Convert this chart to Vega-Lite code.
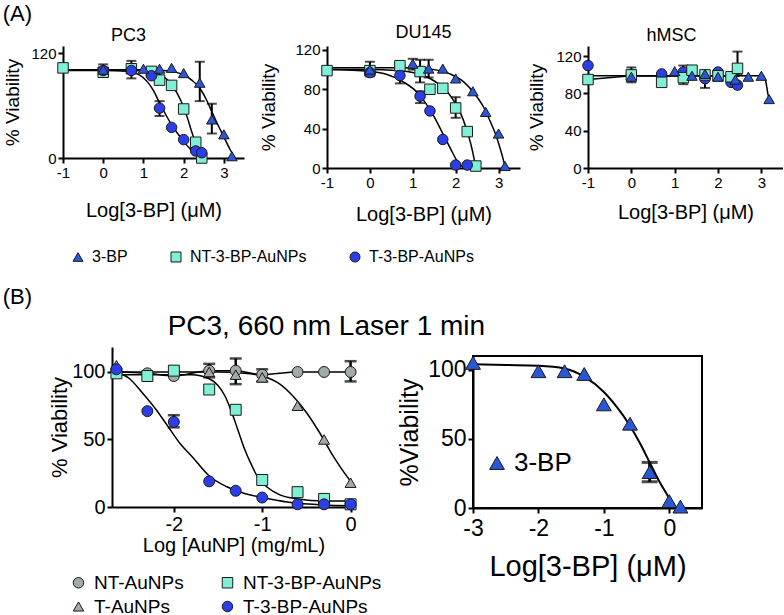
{
  "$schema": "https://vega.github.io/schema/vega-lite/v6.json",
  "padding": {"left": 2, "top": 2, "right": 0, "bottom": 0},
  "config": {
    "font": "Liberation Sans",
    "view": {"stroke": null},
    "axis": {"domainColor": "black", "domainWidth": 2, "tickColor": "black", "tickWidth": 2, "tickSize": 5, "labelColor": "black", "titleColor": "black", "grid": false, "titleFontWeight": "normal", "labelPadding": 2, "labelFlush": false, "labelOverlap": false, "labelExpr": "toString(datum.value)"},
    "title": {"fontWeight": "normal", "color": "black"},
    "legend": {"labelColor": "black", "padding": 0}
  },
  "datasets": {
    "pc3_pts": [
      {"s": "NT-3-BP-AuNPs", "x": -1, "y": 103},
      {"s": "NT-3-BP-AuNPs", "x": 0, "y": 98},
      {"s": "NT-3-BP-AuNPs", "x": 0.7, "y": 102, "lo": 91, "hi": 111},
      {"s": "NT-3-BP-AuNPs", "x": 1.2, "y": 99},
      {"s": "NT-3-BP-AuNPs", "x": 1.4, "y": 89},
      {"s": "NT-3-BP-AuNPs", "x": 1.7, "y": 83},
      {"s": "NT-3-BP-AuNPs", "x": 2.0, "y": 56},
      {"s": "NT-3-BP-AuNPs", "x": 2.3, "y": 18},
      {"s": "NT-3-BP-AuNPs", "x": 2.45, "y": 0},
      {"s": "T-3-BP-AuNPs", "x": 0, "y": 100, "lo": 93, "hi": 107},
      {"s": "T-3-BP-AuNPs", "x": 0.7, "y": 100},
      {"s": "T-3-BP-AuNPs", "x": 1.2, "y": 94},
      {"s": "T-3-BP-AuNPs", "x": 1.4, "y": 57, "lo": 48, "hi": 65},
      {"s": "T-3-BP-AuNPs", "x": 1.7, "y": 35},
      {"s": "T-3-BP-AuNPs", "x": 2.0, "y": 21},
      {"s": "T-3-BP-AuNPs", "x": 2.3, "y": 8},
      {"s": "T-3-BP-AuNPs", "x": 2.45, "y": 6},
      {"s": "3-BP", "x": 0, "y": 101},
      {"s": "3-BP", "x": 1.0, "y": 102},
      {"s": "3-BP", "x": 1.4, "y": 102},
      {"s": "3-BP", "x": 1.7, "y": 103},
      {"s": "3-BP", "x": 2.0, "y": 97},
      {"s": "3-BP", "x": 2.4, "y": 86, "lo": 65, "hi": 110},
      {"s": "3-BP", "x": 2.7, "y": 44, "lo": 28, "hi": 62},
      {"s": "3-BP", "x": 3.0, "y": 27},
      {"s": "3-BP", "x": 3.2, "y": 2}
    ],
    "pc3_fit": [
      {"s": "T-3-BP-AuNPs", "x": -1, "y": 100}, {"s": "T-3-BP-AuNPs", "x": 0, "y": 100}, {"s": "T-3-BP-AuNPs", "x": 0.6, "y": 99}, {"s": "T-3-BP-AuNPs", "x": 0.9, "y": 95}, {"s": "T-3-BP-AuNPs", "x": 1.1, "y": 87}, {"s": "T-3-BP-AuNPs", "x": 1.25, "y": 77}, {"s": "T-3-BP-AuNPs", "x": 1.4, "y": 63}, {"s": "T-3-BP-AuNPs", "x": 1.55, "y": 50}, {"s": "T-3-BP-AuNPs", "x": 1.7, "y": 38}, {"s": "T-3-BP-AuNPs", "x": 1.85, "y": 28}, {"s": "T-3-BP-AuNPs", "x": 2.0, "y": 19}, {"s": "T-3-BP-AuNPs", "x": 2.15, "y": 11}, {"s": "T-3-BP-AuNPs", "x": 2.3, "y": 5}, {"s": "T-3-BP-AuNPs", "x": 2.45, "y": 1},
      {"s": "NT-3-BP-AuNPs", "x": -1, "y": 101}, {"s": "NT-3-BP-AuNPs", "x": 0, "y": 101}, {"s": "NT-3-BP-AuNPs", "x": 0.8, "y": 100}, {"s": "NT-3-BP-AuNPs", "x": 1.2, "y": 98}, {"s": "NT-3-BP-AuNPs", "x": 1.5, "y": 93}, {"s": "NT-3-BP-AuNPs", "x": 1.7, "y": 84}, {"s": "NT-3-BP-AuNPs", "x": 1.85, "y": 73}, {"s": "NT-3-BP-AuNPs", "x": 2.0, "y": 58}, {"s": "NT-3-BP-AuNPs", "x": 2.1, "y": 45}, {"s": "NT-3-BP-AuNPs", "x": 2.2, "y": 30}, {"s": "NT-3-BP-AuNPs", "x": 2.3, "y": 17}, {"s": "NT-3-BP-AuNPs", "x": 2.4, "y": 6}, {"s": "NT-3-BP-AuNPs", "x": 2.47, "y": 0},
      {"s": "3-BP", "x": -1, "y": 101}, {"s": "3-BP", "x": 0, "y": 101}, {"s": "3-BP", "x": 1.0, "y": 101}, {"s": "3-BP", "x": 1.5, "y": 100}, {"s": "3-BP", "x": 1.8, "y": 98}, {"s": "3-BP", "x": 2.0, "y": 95}, {"s": "3-BP", "x": 2.2, "y": 89}, {"s": "3-BP", "x": 2.4, "y": 80}, {"s": "3-BP", "x": 2.55, "y": 68}, {"s": "3-BP", "x": 2.7, "y": 53}, {"s": "3-BP", "x": 2.85, "y": 38}, {"s": "3-BP", "x": 3.0, "y": 24}, {"s": "3-BP", "x": 3.15, "y": 10}, {"s": "3-BP", "x": 3.28, "y": 0}
    ],
    "du_pts": [
      {"s": "NT-3-BP-AuNPs", "x": -1, "y": 99},
      {"s": "NT-3-BP-AuNPs", "x": 0, "y": 99},
      {"s": "NT-3-BP-AuNPs", "x": 0.7, "y": 104},
      {"s": "NT-3-BP-AuNPs", "x": 1.17, "y": 98, "lo": 87, "hi": 110},
      {"s": "NT-3-BP-AuNPs", "x": 1.4, "y": 80},
      {"s": "NT-3-BP-AuNPs", "x": 1.7, "y": 81},
      {"s": "NT-3-BP-AuNPs", "x": 2.0, "y": 61, "lo": 51, "hi": 72},
      {"s": "NT-3-BP-AuNPs", "x": 2.27, "y": 37},
      {"s": "NT-3-BP-AuNPs", "x": 2.47, "y": 2},
      {"s": "T-3-BP-AuNPs", "x": 0, "y": 97, "lo": 93, "hi": 108},
      {"s": "T-3-BP-AuNPs", "x": 0.7, "y": 94, "lo": 86, "hi": 100},
      {"s": "T-3-BP-AuNPs", "x": 1.17, "y": 73, "lo": 66, "hi": 78},
      {"s": "T-3-BP-AuNPs", "x": 1.4, "y": 58},
      {"s": "T-3-BP-AuNPs", "x": 1.7, "y": 29},
      {"s": "T-3-BP-AuNPs", "x": 2.0, "y": 3},
      {"s": "T-3-BP-AuNPs", "x": 2.27, "y": 3},
      {"s": "3-BP", "x": 0, "y": 100},
      {"s": "3-BP", "x": 1.0, "y": 106, "lo": 100, "hi": 111},
      {"s": "3-BP", "x": 1.37, "y": 101, "lo": 92, "hi": 110},
      {"s": "3-BP", "x": 1.7, "y": 101},
      {"s": "3-BP", "x": 2.0, "y": 91},
      {"s": "3-BP", "x": 2.4, "y": 78},
      {"s": "3-BP", "x": 2.7, "y": 57},
      {"s": "3-BP", "x": 3.0, "y": 35},
      {"s": "3-BP", "x": 3.15, "y": 2}
    ],
    "du_fit": [
      {"s": "T-3-BP-AuNPs", "x": -1, "y": 100}, {"s": "T-3-BP-AuNPs", "x": 0, "y": 98}, {"s": "T-3-BP-AuNPs", "x": 0.4, "y": 95}, {"s": "T-3-BP-AuNPs", "x": 0.8, "y": 87}, {"s": "T-3-BP-AuNPs", "x": 1.1, "y": 77}, {"s": "T-3-BP-AuNPs", "x": 1.3, "y": 66}, {"s": "T-3-BP-AuNPs", "x": 1.5, "y": 52}, {"s": "T-3-BP-AuNPs", "x": 1.7, "y": 35}, {"s": "T-3-BP-AuNPs", "x": 1.9, "y": 18}, {"s": "T-3-BP-AuNPs", "x": 2.05, "y": 6}, {"s": "T-3-BP-AuNPs", "x": 2.2, "y": 0},
      {"s": "NT-3-BP-AuNPs", "x": -1, "y": 100}, {"s": "NT-3-BP-AuNPs", "x": 0, "y": 100}, {"s": "NT-3-BP-AuNPs", "x": 0.6, "y": 99}, {"s": "NT-3-BP-AuNPs", "x": 1.0, "y": 97}, {"s": "NT-3-BP-AuNPs", "x": 1.4, "y": 91}, {"s": "NT-3-BP-AuNPs", "x": 1.7, "y": 82}, {"s": "NT-3-BP-AuNPs", "x": 1.9, "y": 72}, {"s": "NT-3-BP-AuNPs", "x": 2.1, "y": 57}, {"s": "NT-3-BP-AuNPs", "x": 2.25, "y": 40}, {"s": "NT-3-BP-AuNPs", "x": 2.35, "y": 25}, {"s": "NT-3-BP-AuNPs", "x": 2.44, "y": 7}, {"s": "NT-3-BP-AuNPs", "x": 2.47, "y": 0},
      {"s": "3-BP", "x": -1, "y": 102}, {"s": "3-BP", "x": 0, "y": 102}, {"s": "3-BP", "x": 1.0, "y": 102}, {"s": "3-BP", "x": 1.5, "y": 100}, {"s": "3-BP", "x": 1.9, "y": 95}, {"s": "3-BP", "x": 2.2, "y": 87}, {"s": "3-BP", "x": 2.45, "y": 75}, {"s": "3-BP", "x": 2.65, "y": 62}, {"s": "3-BP", "x": 2.8, "y": 48}, {"s": "3-BP", "x": 2.95, "y": 32}, {"s": "3-BP", "x": 3.05, "y": 18}, {"s": "3-BP", "x": 3.15, "y": 2}
    ],
    "hm_pts": [
      {"s": "T-3-BP-AuNPs", "x": -1, "y": 110},
      {"s": "T-3-BP-AuNPs", "x": 0, "y": 100, "lo": 92, "hi": 108},
      {"s": "T-3-BP-AuNPs", "x": 0.7, "y": 101},
      {"s": "T-3-BP-AuNPs", "x": 1.2, "y": 103},
      {"s": "T-3-BP-AuNPs", "x": 1.7, "y": 96, "lo": 86, "hi": 104},
      {"s": "T-3-BP-AuNPs", "x": 2.0, "y": 103},
      {"s": "T-3-BP-AuNPs", "x": 2.3, "y": 92},
      {"s": "T-3-BP-AuNPs", "x": 2.45, "y": 89},
      {"s": "NT-3-BP-AuNPs", "x": -1, "y": 95},
      {"s": "NT-3-BP-AuNPs", "x": 0, "y": 100},
      {"s": "NT-3-BP-AuNPs", "x": 0.7, "y": 92},
      {"s": "NT-3-BP-AuNPs", "x": 1.2, "y": 97, "lo": 90, "hi": 110},
      {"s": "NT-3-BP-AuNPs", "x": 1.4, "y": 105},
      {"s": "NT-3-BP-AuNPs", "x": 1.7, "y": 100},
      {"s": "NT-3-BP-AuNPs", "x": 2.0, "y": 99},
      {"s": "NT-3-BP-AuNPs", "x": 2.3, "y": 98},
      {"s": "NT-3-BP-AuNPs", "x": 2.45, "y": 107, "lo": 100, "hi": 125},
      {"s": "3-BP", "x": 0, "y": 98},
      {"s": "3-BP", "x": 1.0, "y": 104},
      {"s": "3-BP", "x": 1.4, "y": 99},
      {"s": "3-BP", "x": 1.7, "y": 101},
      {"s": "3-BP", "x": 2.0, "y": 98},
      {"s": "3-BP", "x": 2.4, "y": 95},
      {"s": "3-BP", "x": 2.7, "y": 98},
      {"s": "3-BP", "x": 3.0, "y": 99},
      {"s": "3-BP", "x": 3.18, "y": 74}
    ],
    "hm_fit": [
      {"s": "T-3-BP-AuNPs", "x": -1, "y": 99}, {"s": "T-3-BP-AuNPs", "x": 2.5, "y": 99},
      {"s": "NT-3-BP-AuNPs", "x": -1, "y": 95}, {"s": "NT-3-BP-AuNPs", "x": 0, "y": 99}, {"s": "NT-3-BP-AuNPs", "x": 2.5, "y": 99},
      {"s": "3-BP", "x": 0, "y": 99}, {"s": "3-BP", "x": 3.05, "y": 99}, {"s": "3-BP", "x": 3.1, "y": 94}, {"s": "3-BP", "x": 3.15, "y": 80}, {"s": "3-BP", "x": 3.18, "y": 74}
    ],
    "bl_pts": [
      {"s": "NT-AuNPs", "x": -2.65, "y": 100},
      {"s": "NT-AuNPs", "x": -2.3, "y": 99},
      {"s": "NT-AuNPs", "x": -2.0, "y": 97},
      {"s": "NT-AuNPs", "x": -1.6, "y": 101, "lo": 96, "hi": 106},
      {"s": "NT-AuNPs", "x": -1.3, "y": 101, "lo": 91, "hi": 110},
      {"s": "NT-AuNPs", "x": -1.0, "y": 98, "lo": 93, "hi": 102},
      {"s": "NT-AuNPs", "x": -0.6, "y": 100},
      {"s": "NT-AuNPs", "x": -0.3, "y": 100},
      {"s": "NT-AuNPs", "x": 0, "y": 100, "lo": 93, "hi": 108},
      {"s": "T-AuNPs", "x": -2.65, "y": 105},
      {"s": "T-AuNPs", "x": -2.3, "y": 98},
      {"s": "T-AuNPs", "x": -2.0, "y": 101},
      {"s": "T-AuNPs", "x": -1.6, "y": 100},
      {"s": "T-AuNPs", "x": -1.3, "y": 98},
      {"s": "T-AuNPs", "x": -1.0, "y": 96},
      {"s": "T-AuNPs", "x": -0.6, "y": 75},
      {"s": "T-AuNPs", "x": -0.3, "y": 50},
      {"s": "T-AuNPs", "x": 0, "y": 18},
      {"s": "NT-3-BP-AuNPs", "x": -2.65, "y": 99},
      {"s": "NT-3-BP-AuNPs", "x": -2.3, "y": 97},
      {"s": "NT-3-BP-AuNPs", "x": -2.0, "y": 101},
      {"s": "NT-3-BP-AuNPs", "x": -1.6, "y": 87},
      {"s": "NT-3-BP-AuNPs", "x": -1.3, "y": 72},
      {"s": "NT-3-BP-AuNPs", "x": -1.0, "y": 20},
      {"s": "NT-3-BP-AuNPs", "x": -0.6, "y": 11},
      {"s": "NT-3-BP-AuNPs", "x": -0.3, "y": 6},
      {"s": "NT-3-BP-AuNPs", "x": 0, "y": 2},
      {"s": "T-3-BP-AuNPs", "x": -2.65, "y": 102},
      {"s": "T-3-BP-AuNPs", "x": -2.3, "y": 71},
      {"s": "T-3-BP-AuNPs", "x": -2.0, "y": 63, "lo": 59, "hi": 68},
      {"s": "T-3-BP-AuNPs", "x": -1.6, "y": 19},
      {"s": "T-3-BP-AuNPs", "x": -1.3, "y": 12},
      {"s": "T-3-BP-AuNPs", "x": -1.0, "y": 7},
      {"s": "T-3-BP-AuNPs", "x": -0.6, "y": 2},
      {"s": "T-3-BP-AuNPs", "x": -0.3, "y": 2},
      {"s": "T-3-BP-AuNPs", "x": 0, "y": 2}
    ],
    "bl_fit": [
      {"s": "NT-AuNPs", "x": -2.65, "y": 100}, {"s": "NT-AuNPs", "x": -2.3, "y": 99}, {"s": "NT-AuNPs", "x": -2.0, "y": 97}, {"s": "NT-AuNPs", "x": -1.6, "y": 101}, {"s": "NT-AuNPs", "x": -1.3, "y": 101}, {"s": "NT-AuNPs", "x": -1.0, "y": 98}, {"s": "NT-AuNPs", "x": -0.6, "y": 100}, {"s": "NT-AuNPs", "x": -0.3, "y": 100}, {"s": "NT-AuNPs", "x": 0, "y": 100},
      {"s": "T-AuNPs", "x": -2.65, "y": 100}, {"s": "T-AuNPs", "x": -1.5, "y": 100}, {"s": "T-AuNPs", "x": -1.2, "y": 99}, {"s": "T-AuNPs", "x": -1.0, "y": 97}, {"s": "T-AuNPs", "x": -0.8, "y": 91}, {"s": "T-AuNPs", "x": -0.65, "y": 82}, {"s": "T-AuNPs", "x": -0.5, "y": 70}, {"s": "T-AuNPs", "x": -0.35, "y": 55}, {"s": "T-AuNPs", "x": -0.2, "y": 38}, {"s": "T-AuNPs", "x": -0.1, "y": 28}, {"s": "T-AuNPs", "x": 0, "y": 19},
      {"s": "NT-3-BP-AuNPs", "x": -2.65, "y": 98}, {"s": "NT-3-BP-AuNPs", "x": -1.8, "y": 98}, {"s": "NT-3-BP-AuNPs", "x": -1.6, "y": 95}, {"s": "NT-3-BP-AuNPs", "x": -1.5, "y": 90}, {"s": "NT-3-BP-AuNPs", "x": -1.42, "y": 82}, {"s": "NT-3-BP-AuNPs", "x": -1.35, "y": 71}, {"s": "NT-3-BP-AuNPs", "x": -1.28, "y": 58}, {"s": "NT-3-BP-AuNPs", "x": -1.2, "y": 43}, {"s": "NT-3-BP-AuNPs", "x": -1.12, "y": 31}, {"s": "NT-3-BP-AuNPs", "x": -1.05, "y": 22}, {"s": "NT-3-BP-AuNPs", "x": -0.95, "y": 15}, {"s": "NT-3-BP-AuNPs", "x": -0.8, "y": 9}, {"s": "NT-3-BP-AuNPs", "x": -0.6, "y": 6}, {"s": "NT-3-BP-AuNPs", "x": -0.3, "y": 4.5}, {"s": "NT-3-BP-AuNPs", "x": 0, "y": 4.5},
      {"s": "T-3-BP-AuNPs", "x": -2.65, "y": 100}, {"s": "T-3-BP-AuNPs", "x": -2.5, "y": 95}, {"s": "T-3-BP-AuNPs", "x": -2.35, "y": 84}, {"s": "T-3-BP-AuNPs", "x": -2.2, "y": 72}, {"s": "T-3-BP-AuNPs", "x": -2.07, "y": 60}, {"s": "T-3-BP-AuNPs", "x": -1.93, "y": 47}, {"s": "T-3-BP-AuNPs", "x": -1.79, "y": 37}, {"s": "T-3-BP-AuNPs", "x": -1.6, "y": 23}, {"s": "T-3-BP-AuNPs", "x": -1.4, "y": 15}, {"s": "T-3-BP-AuNPs", "x": -1.2, "y": 10}, {"s": "T-3-BP-AuNPs", "x": -1.0, "y": 7}, {"s": "T-3-BP-AuNPs", "x": -0.7, "y": 3.5}, {"s": "T-3-BP-AuNPs", "x": -0.3, "y": 1.5}, {"s": "T-3-BP-AuNPs", "x": 0, "y": 1}
    ],
    "br_pts": [
      {"s": "3-BP", "x": -3, "y": 105},
      {"s": "3-BP", "x": -2, "y": 99},
      {"s": "3-BP", "x": -1.6, "y": 99},
      {"s": "3-BP", "x": -1.3, "y": 97},
      {"s": "3-BP", "x": -1.0, "y": 75},
      {"s": "3-BP", "x": -0.6, "y": 61},
      {"s": "3-BP", "x": -0.3, "y": 26, "lo": 19, "hi": 33},
      {"s": "3-BP", "x": 0, "y": 5},
      {"s": "3-BP", "x": 0.17, "y": 1}
    ],
    "br_fit": [
      {"s": "3-BP", "x": -3, "y": 104}, {"s": "3-BP", "x": -2.5, "y": 103.5}, {"s": "3-BP", "x": -2, "y": 103}, {"s": "3-BP", "x": -1.6, "y": 101}, {"s": "3-BP", "x": -1.3, "y": 95}, {"s": "3-BP", "x": -1.0, "y": 84}, {"s": "3-BP", "x": -0.8, "y": 73}, {"s": "3-BP", "x": -0.62, "y": 61}, {"s": "3-BP", "x": -0.45, "y": 47}, {"s": "3-BP", "x": -0.3, "y": 33}, {"s": "3-BP", "x": -0.15, "y": 19}, {"s": "3-BP", "x": 0, "y": 7}, {"s": "3-BP", "x": 0.08, "y": 0}
    ]
  },
  "title": {"text": "(A)", "anchor": "start", "fontSize": 22, "offset": -2},
  "spacing": 20,
  "resolve": {"scale": {"color": "independent", "shape": "independent"}, "legend": {"color": "independent", "shape": "independent"}},
  "vconcat": [
    {
      "bounds": "flush",
      "spacing": 83,
      "resolve": {"scale": {"color": "independent", "shape": "independent"}, "legend": {"color": "independent", "shape": "independent"}},
      "hconcat": [
        {
          "width": 181, "height": 112,
          "title": {"text": "PC3", "fontSize": 18, "offset": 1, "dx": -25},
          "encoding": {"x": {"field": "x", "type": "quantitative", "scale": {"domain": [-1, 3.5], "nice": false, "zero": false}, "axis": {"values": [-1, 0, 1, 2, 3], "title": "Log[3-BP] (μM)", "titleFontSize": 20, "labelFontSize": 15, "titlePadding": 20}}},
          "layer": [
            {"data": {"name": "pc3_fit"}, "mark": {"type": "line", "color": "black", "strokeWidth": 1.5, "interpolate": "monotone"}, "encoding": {"y": {"field": "y", "type": "quantitative", "scale": {"domain": [0, 128], "nice": false, "zero": false}, "axis": {"values": [0, 40, 80, 120], "labelFontSize": 15, "titleFontSize": 19, "titlePadding": 8}, "title": "% Viability"}, "detail": {"field": "s"}}},
            {"data": {"name": "pc3_pts"}, "transform": [{"filter": "isValid(datum.hi)"}], "mark": {"type": "errorbar", "ticks": {"size": 10, "thickness": 2, "color": "black"}, "rule": {"strokeWidth": 2, "color": "black"}}, "encoding": {"y": {"field": "lo", "type": "quantitative", "scale": {"domain": [0, 128], "nice": false, "zero": false}, "title": "% Viability"}, "y2": {"field": "hi"}}},
            {"data": {"name": "pc3_pts"}, "mark": {"type": "point", "filled": true, "stroke": "#1a1a1a", "strokeWidth": 1, "size": 110, "opacity": 1},
             "encoding": {
               "y": {"field": "y", "type": "quantitative", "scale": {"domain": [0, 128], "nice": false, "zero": false}, "title": "% Viability"},
               "shape": {"field": "s", "type": "nominal", "scale": {"domain": ["3-BP", "NT-3-BP-AuNPs", "T-3-BP-AuNPs"], "range": ["triangle-up", "square", "circle"]}, "legend": {"orient": "none", "legendX": 7, "legendY": 203, "direction": "horizontal", "title": null, "labelFontSize": 16, "symbolSize": 100, "symbolStrokeColor": "#1a1a1a", "symbolStrokeWidth": 1, "columnPadding": 40, "labelOffset": 6}},
               "color": {"field": "s", "type": "nominal", "scale": {"domain": ["3-BP", "NT-3-BP-AuNPs", "T-3-BP-AuNPs"], "range": ["#2b57d6", "#7ff0d6", "#2b3ee8"]}, "legend": {"orient": "none", "legendX": 7, "legendY": 203, "direction": "horizontal", "title": null, "labelFontSize": 16, "symbolSize": 100, "symbolStrokeColor": "#1a1a1a", "symbolStrokeWidth": 1, "columnPadding": 40, "labelOffset": 6}}
             }}
          ]
        },
        {
          "bounds": "flush",
          "spacing": 68,
          "resolve": {"scale": {"color": "independent", "shape": "independent"}, "legend": {"color": "independent", "shape": "independent"}},
          "hconcat": [
            {
              "width": 193, "height": 122,
              "title": {"text": "DU145", "fontSize": 18, "offset": 1},
              "encoding": {"x": {"field": "x", "type": "quantitative", "scale": {"domain": [-1, 3.5], "nice": false, "zero": false}, "axis": {"values": [-1, 0, 1, 2, 3], "title": "Log[3-BP] (μM)", "titleFontSize": 20, "labelFontSize": 15, "titlePadding": 14}}},
              "layer": [
                {"data": {"name": "du_fit"}, "mark": {"type": "line", "color": "black", "strokeWidth": 1.5, "interpolate": "monotone"}, "encoding": {"y": {"field": "y", "type": "quantitative", "scale": {"domain": [0, 124], "nice": false, "zero": false}, "axis": {"values": [0, 40, 80, 120], "labelFontSize": 15, "titleFontSize": 19, "titlePadding": 16}, "title": "% Viability"}, "detail": {"field": "s"}}},
                {"data": {"name": "du_pts"}, "transform": [{"filter": "isValid(datum.hi)"}], "mark": {"type": "errorbar", "ticks": {"size": 10, "thickness": 2, "color": "black"}, "rule": {"strokeWidth": 2, "color": "black"}}, "encoding": {"y": {"field": "lo", "type": "quantitative", "scale": {"domain": [0, 124], "nice": false, "zero": false}, "title": "% Viability"}, "y2": {"field": "hi"}}},
                {"data": {"name": "du_pts"}, "mark": {"type": "point", "filled": true, "stroke": "#1a1a1a", "strokeWidth": 1, "size": 110, "opacity": 1},
                 "encoding": {
                   "y": {"field": "y", "type": "quantitative", "scale": {"domain": [0, 124], "nice": false, "zero": false}, "title": "% Viability"},
                   "shape": {"field": "s", "type": "nominal", "scale": {"domain": ["3-BP", "NT-3-BP-AuNPs", "T-3-BP-AuNPs"], "range": ["triangle-up", "square", "circle"]}, "legend": null},
                   "color": {"field": "s", "type": "nominal", "scale": {"domain": ["3-BP", "NT-3-BP-AuNPs", "T-3-BP-AuNPs"], "range": ["#2b57d6", "#7ff0d6", "#2b3ee8"]}, "legend": null}
                 }}
              ]
            },
            {
              "width": 195, "height": 122,
              "title": {"text": "hMSC", "fontSize": 18, "offset": 1, "dx": -14},
              "encoding": {"x": {"field": "x", "type": "quantitative", "scale": {"domain": [-1, 3.5], "nice": false, "zero": false}, "axis": {"values": [-1, 0, 1, 2, 3], "title": "Log[3-BP] (μM)", "titleFontSize": 20, "labelFontSize": 15, "titlePadding": 12}}},
              "layer": [
                {"data": {"name": "hm_fit"}, "mark": {"type": "line", "color": "black", "strokeWidth": 1.5}, "encoding": {"y": {"field": "y", "type": "quantitative", "scale": {"domain": [0, 131], "nice": false, "zero": false}, "axis": {"values": [0, 40, 80, 120], "labelFontSize": 15, "titleFontSize": 19, "titlePadding": 9}, "title": "% Viability"}, "detail": {"field": "s"}}},
                {"data": {"name": "hm_pts"}, "transform": [{"filter": "isValid(datum.hi)"}], "mark": {"type": "errorbar", "ticks": {"size": 10, "thickness": 2, "color": "black"}, "rule": {"strokeWidth": 2, "color": "black"}}, "encoding": {"y": {"field": "lo", "type": "quantitative", "scale": {"domain": [0, 131], "nice": false, "zero": false}, "title": "% Viability"}, "y2": {"field": "hi"}}},
                {"data": {"name": "hm_pts"}, "mark": {"type": "point", "filled": true, "stroke": "#1a1a1a", "strokeWidth": 1, "size": 110, "opacity": 1},
                 "encoding": {
                   "y": {"field": "y", "type": "quantitative", "scale": {"domain": [0, 131], "nice": false, "zero": false}, "title": "% Viability"},
                   "shape": {"field": "s", "type": "nominal", "scale": {"domain": ["3-BP", "NT-3-BP-AuNPs", "T-3-BP-AuNPs"], "range": ["triangle-up", "square", "circle"]}, "legend": null},
                   "color": {"field": "s", "type": "nominal", "scale": {"domain": ["3-BP", "NT-3-BP-AuNPs", "T-3-BP-AuNPs"], "range": ["#2b57d6", "#7ff0d6", "#2b3ee8"]}, "legend": null}
                 }}
              ]
            }
          ]
        }
      ]
    },
    {
      "title": {"text": "(B)", "anchor": "start", "fontSize": 22, "offset": 4, "dx": -46},
      "resolve": {"scale": {"color": "independent", "shape": "independent"}, "legend": {"color": "independent", "shape": "independent"}},
      "vconcat": [
        {
          "title": {"text": "PC3, 660 nm Laser 1 min", "anchor": "start", "fontSize": 28, "offset": 4, "dx": 119},
          "bounds": "flush",
          "spacing": 48,
          "resolve": {"scale": {"color": "independent", "shape": "independent"}, "legend": {"color": "independent", "shape": "independent"}},
          "hconcat": [
            {"width": 1, "height": 1, "data": {"values": [{"a": 0}]}, "mark": {"type": "point", "opacity": 0}, "encoding": {}},
            {
              "bounds": "flush",
              "spacing": 118,
              "resolve": {"scale": {"color": "independent", "shape": "independent"}, "legend": {"color": "independent", "shape": "independent"}},
              "hconcat": [
                {
                  "width": 243, "height": 160,
                  "encoding": {"x": {"field": "x", "type": "quantitative", "scale": {"domain": [-2.7, 0.05], "nice": false, "zero": false}, "axis": {"values": [-2, -1, 0], "title": "Log [AuNP] (mg/mL)", "titleFontSize": 20, "labelFontSize": 20, "titlePadding": 1}}},
                  "layer": [
                    {"data": {"name": "bl_fit"}, "mark": {"type": "line", "color": "black", "strokeWidth": 1.5, "interpolate": "monotone"}, "encoding": {"y": {"field": "y", "type": "quantitative", "scale": {"domain": [0, 118.5], "nice": false, "zero": false}, "axis": {"values": [0, 50, 100], "labelFontSize": 20, "titleFontSize": 22, "titlePadding": 0}, "title": "% Viability"}, "detail": {"field": "s"}}},
                    {"data": {"name": "bl_pts"}, "transform": [{"filter": "isValid(datum.hi)"}], "mark": {"type": "errorbar", "ticks": {"size": 12, "thickness": 2.5, "color": "black"}, "rule": {"strokeWidth": 2.5, "color": "black"}}, "encoding": {"y": {"field": "lo", "type": "quantitative", "scale": {"domain": [0, 118.5], "nice": false, "zero": false}, "title": "% Viability"}, "y2": {"field": "hi"}}},
                    {"data": {"name": "bl_pts"}, "mark": {"type": "point", "filled": true, "stroke": "#1a1a1a", "strokeWidth": 1, "size": 120, "opacity": 1},
                     "encoding": {
                       "y": {"field": "y", "type": "quantitative", "scale": {"domain": [0, 118.5], "nice": false, "zero": false}, "title": "% Viability"},
                       "shape": {"field": "s", "type": "nominal", "scale": {"domain": ["NT-AuNPs", "T-AuNPs", "NT-3-BP-AuNPs", "T-3-BP-AuNPs"], "range": ["circle", "triangle-up", "square", "circle"]}, "legend": {"orient": "none", "legendX": -43, "legendY": 226, "columns": 2, "title": null, "labelFontSize": 19, "symbolSize": 110, "symbolStrokeColor": "#1a1a1a", "symbolStrokeWidth": 1, "columnPadding": 34, "rowPadding": 4, "labelOffset": 6}},
                       "color": {"field": "s", "type": "nominal", "scale": {"domain": ["NT-AuNPs", "T-AuNPs", "NT-3-BP-AuNPs", "T-3-BP-AuNPs"], "range": ["#a2a9a9", "#a2a9a9", "#7ff0d6", "#2b3ee8"]}, "legend": {"orient": "none", "legendX": -43, "legendY": 226, "columns": 2, "title": null, "labelFontSize": 19, "symbolSize": 110, "symbolStrokeColor": "#1a1a1a", "symbolStrokeWidth": 1, "columnPadding": 34, "rowPadding": 4, "labelOffset": 6}}
                     }}
                  ]
                },
                {
                  "bounds": "flush",
                  "spacing": 8,
                  "resolve": {"scale": {"color": "independent", "shape": "independent"}, "legend": {"color": "independent", "shape": "independent"}},
                  "vconcat": [
                    {"width": 229, "height": 1, "data": {"values": [{"a": 0}]}, "mark": {"type": "point", "opacity": 0}, "encoding": {}},
                    {
                      "width": 229, "height": 152,
                      "view": {"stroke": "black", "strokeWidth": 2},
                      "encoding": {"x": {"field": "x", "type": "quantitative", "scale": {"domain": [-3, 0.5], "nice": false, "zero": false}, "axis": {"values": [-3, -2, -1, 0], "title": "Log[3-BP] (μM)", "titleFontSize": 29, "labelFontSize": 23, "labelPadding": 4, "titlePadding": 12}}},
                      "layer": [
                        {"data": {"name": "br_fit"}, "mark": {"type": "line", "color": "black", "strokeWidth": 2, "interpolate": "monotone"}, "encoding": {"y": {"field": "y", "type": "quantitative", "scale": {"domain": [0, 110], "nice": false, "zero": false}, "axis": {"values": [0, 50, 100], "labelFontSize": 23, "titleFontSize": 25, "titlePadding": 5, "labelPadding": 2}, "title": "%Viability"}, "detail": {"field": "s"}}},
                        {"data": {"name": "br_pts"}, "transform": [{"filter": "isValid(datum.hi)"}], "mark": {"type": "errorbar", "ticks": {"size": 16, "thickness": 3, "color": "black"}, "rule": {"strokeWidth": 3, "color": "black"}}, "encoding": {"y": {"field": "lo", "type": "quantitative", "scale": {"domain": [0, 110], "nice": false, "zero": false}, "title": "%Viability"}, "y2": {"field": "hi"}}},
                        {"data": {"name": "br_pts"}, "mark": {"type": "point", "filled": true, "stroke": "#1a1a1a", "strokeWidth": 1, "size": 220, "opacity": 1},
                         "encoding": {
                           "y": {"field": "y", "type": "quantitative", "scale": {"domain": [0, 110], "nice": false, "zero": false}, "title": "%Viability"},
                           "shape": {"field": "s", "type": "nominal", "scale": {"domain": ["3-BP"], "range": ["triangle-up"]}, "legend": {"orient": "none", "legendX": 11, "legendY": 94, "title": null, "labelFontSize": 26, "symbolSize": 220, "symbolStrokeColor": "#1a1a1a", "symbolStrokeWidth": 1, "labelOffset": 4}},
                           "color": {"field": "s", "type": "nominal", "scale": {"domain": ["3-BP"], "range": ["#2b57d6"]}, "legend": {"orient": "none", "legendX": 11, "legendY": 94, "title": null, "labelFontSize": 26, "symbolSize": 220, "symbolStrokeColor": "#1a1a1a", "symbolStrokeWidth": 1, "labelOffset": 4}}
                         }}
                      ]
                    }
                  ]
                }
              ]
            }
          ]
        }
      ]
    }
  ]
}
